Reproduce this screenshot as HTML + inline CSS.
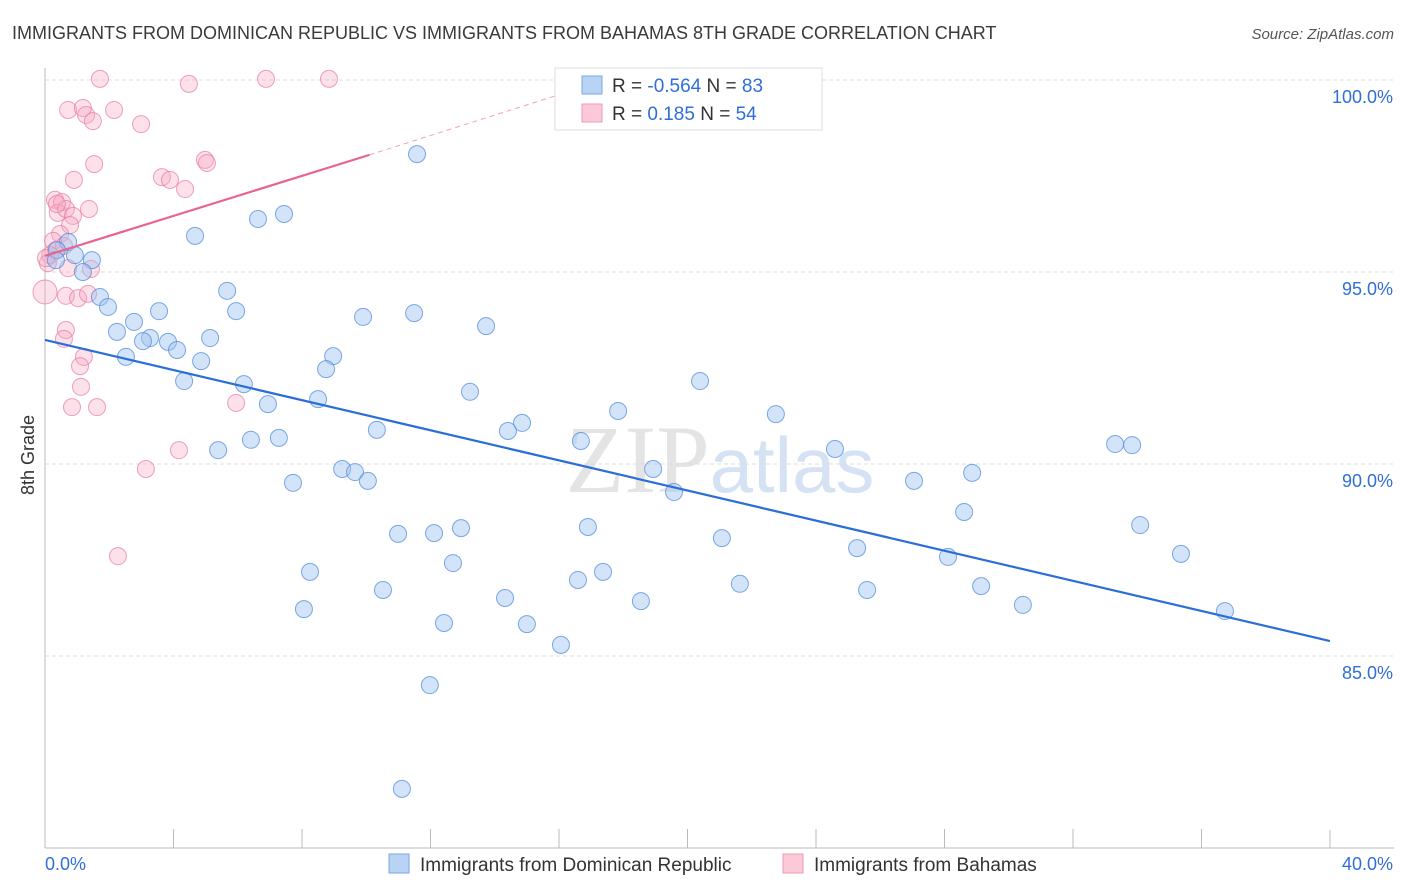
<!DOCTYPE html>
<html><head><meta charset="utf-8"><style>
body{margin:0;background:#fff;font-family:"Liberation Sans",sans-serif;}
svg{display:block}
</style></head><body>
<svg id="chart" width="1406" height="892" xmlns="http://www.w3.org/2000/svg" font-family="Liberation Sans, sans-serif">
<text x="12" y="39" font-size="18" fill="#3a3a3a">IMMIGRANTS FROM DOMINICAN REPUBLIC VS IMMIGRANTS FROM BAHAMAS 8TH GRADE CORRELATION CHART</text>
<text x="1394" y="39" font-size="15" fill="#555" text-anchor="end" font-style="italic">Source: ZipAtlas.com</text>
<text x="720" y="492" font-size="96" fill="#e4e4e4" text-anchor="middle" font-family="Liberation Serif, serif">ZIP<tspan fill="#d4e2f4" font-family="Liberation Sans, sans-serif" font-size="78">atlas</tspan></text>
<g id="grid"></g>
<g id="axes"></g>
<g id="pts"></g>
<g id="trends"></g>
<text transform="translate(34,455) rotate(-90)" font-size="18" fill="#333" text-anchor="middle">8th Grade</text>
<g>
<rect x="555" y="68" width="267" height="62" fill="#fff" stroke="#ddd"/>
<rect x="582" y="76" width="20" height="18" fill="#b9d3f5" stroke="#7aa6e6"/>
<rect x="582" y="104" width="20" height="18" fill="#fbc9d8" stroke="#ee9ab5"/>
<text x="612" y="92" font-size="19" fill="#333">R = <tspan fill="#2f6fd6">-0.564</tspan>   N = <tspan fill="#2f6fd6">83</tspan></text>
<text x="612" y="120" font-size="19" fill="#333">R =    <tspan fill="#2f6fd6">0.185</tspan>   N = <tspan fill="#2f6fd6">54</tspan></text>
</g>
<g>
<rect x="389" y="854" width="20" height="19" fill="#b9d3f5" stroke="#7aa6e6"/>
<text x="420" y="871" font-size="19" fill="#333">Immigrants from Dominican Republic</text>
<rect x="783" y="854" width="20" height="19" fill="#fbc9d8" stroke="#ee9ab5"/>
<text x="814" y="871" font-size="19" fill="#333">Immigrants from Bahamas</text>
</g>
</svg>
<script>
const yTicks=[100,95,90,85];
const yTickLabels=["100.0%","95.0%","90.0%","85.0%"];
const xTickVals=[0,4,8,12,16,20,24,28,32,36,40];
const xEndLabels=["0.0%","40.0%"];
const blueX=[11.58,7.44,6.63,4.67,0.72,0.37,0.93,1.46,1.18,0.34,1.71,1.96,5.67,5.95,3.55,9.90,11.49,13.73,2.77,2.24,3.27,3.05,3.83,4.11,5.14,2.52,4.86,8.97,8.75,4.33,6.19,13.23,20.39,6.94,8.50,17.84,22.75,14.85,14.41,10.33,16.68,24.59,33.31,33.84,6.41,7.28,5.39,18.93,9.25,9.65,28.86,7.72,10.05,19.58,27.05,28.61,12.95,12.11,10.99,16.90,34.09,21.07,25.28,28.11,35.36,12.70,8.25,17.37,16.59,21.63,29.14,25.59,10.52,14.32,8.06,18.55,30.44,36.73,12.42,15.00,16.06,11.98,11.11];
const blueY=[98.07,96.51,96.38,95.94,95.78,95.57,95.44,95.31,95.00,95.31,94.35,94.09,94.51,93.98,93.98,93.83,93.93,93.59,93.70,93.44,93.28,93.20,93.18,92.97,93.28,92.79,92.68,92.81,92.47,92.16,92.08,91.88,92.16,91.56,91.69,91.38,91.30,91.07,90.86,90.89,90.60,90.39,90.52,90.49,90.63,90.68,90.36,89.87,89.87,89.79,89.77,89.51,89.56,89.27,89.56,88.75,88.33,88.20,88.18,88.36,88.41,88.07,87.81,87.58,87.66,87.42,87.19,87.19,86.98,86.88,86.82,86.72,86.72,86.51,86.22,86.43,86.33,86.17,85.86,85.83,85.29,84.24,81.54];
const pinkX=[1.71,6.88,8.84,4.48,0.72,1.18,1.28,1.49,2.15,2.99,1.53,0.90,4.98,5.04,3.64,3.89,4.36,0.31,0.53,0.40,0.65,1.37,0.87,0.78,0.47,0.25,0.34,0.16,0.09,0.72,1.43,0.00,0.65,1.03,1.34,0.65,0.59,1.21,1.09,1.12,0.84,1.62,5.95,3.14,4.17,2.27,0.59,0.37,0.03];
const pinkY=[100.03,100.03,100.03,99.90,99.22,99.27,99.09,98.93,99.22,98.85,97.81,97.40,97.92,97.84,97.47,97.40,97.16,96.88,96.82,96.54,96.64,96.64,96.46,96.22,95.99,95.81,95.57,95.44,95.23,95.10,95.08,94.48,94.38,94.32,94.43,93.49,93.26,92.79,92.55,92.01,91.48,91.48,91.59,89.87,90.36,87.60,95.68,96.77,95.36];
const blueTrendX=[0,40];
const blueTrendY=[93.23,85.39];
const pinkTrendX=[0,10.1];
const pinkTrendY=[95.42,98.05];
const pinkDashX=[10.1,16.5];
const pinkDashY=[98.05,99.75];

const NS="http://www.w3.org/2000/svg";
const sx=v=>45+v*32.125;
const sy=v=>80+(100-v)*38.4;
function mk(tag,attrs,parent){const e=document.createElementNS(NS,tag);for(const k in attrs)e.setAttribute(k,attrs[k]);document.getElementById(parent).appendChild(e);return e;}
yTicks.forEach((t,i)=>{
  const g=mk('line',{x1:45,x2:1394,y1:sy(t),y2:sy(t),stroke:'#ddd','stroke-dasharray':'4,3'},'grid');
  
  
  const l=mk('text',{x:1393,y:sy(t)+23,'font-size':18,fill:'#2f6fd6','text-anchor':'end'},'grid');
  l.textContent=yTickLabels[i];
  
  
});
const ax=mk('line',{x1:45,x2:1394,y1:848,y2:848,stroke:'#bbb'},'axes');


const ay=mk('line',{x1:45,x2:45,y1:68,y2:848,stroke:'#bbb'},'axes');


xTickVals.forEach((t,i)=>{
  const big=(i==0||i==xTickVals.length-1);
  const tk=mk('line',{x1:sx(t),x2:sx(t),y1:big?830:829,y2:848,stroke:'#bbb'},'axes');
  
  
});
[[0,'start',45],[40,'end',1393]].forEach((d,i)=>{
  const l=mk('text',{x:d[2],y:870,'font-size':18,fill:'#2f6fd6','text-anchor':d[1]},'axes');
  l.textContent=xEndLabels[i];
  
  
});
pinkX.forEach((x,i)=>{
  const c=mk('circle',{cx:sx(x),cy:sy(pinkY[i]),r:x<0.05&&pinkY[i]<95?12:8.5,fill:'rgba(246,168,194,0.35)',stroke:'rgba(232,120,156,0.7)','stroke-width':1},'pts');
  
  
});
blueX.forEach((x,i)=>{
  const c=mk('circle',{cx:sx(x),cy:sy(blueY[i]),r:8.5,fill:'rgba(160,196,240,0.45)',stroke:'rgba(80,140,220,0.75)','stroke-width':1},'pts');
  
  
});
const bl=mk('line',{x1:sx(blueTrendX[0]),y1:sy(blueTrendY[0]),x2:sx(blueTrendX[1]),y2:sy(blueTrendY[1]),stroke:'#2a6fd8','stroke-width':2.2},'trends');


const pl=mk('line',{x1:sx(pinkTrendX[0]),y1:sy(pinkTrendY[0]),x2:sx(pinkTrendX[1]),y2:sy(pinkTrendY[1]),stroke:'#e8648e','stroke-width':2.2},'trends');


const pd=mk('line',{x1:sx(pinkDashX[0]),y1:sy(pinkDashY[0]),x2:sx(pinkDashX[1]),y2:sy(pinkDashY[1]),stroke:'#f0a0b8','stroke-width':1,'stroke-dasharray':'5,4'},'trends');


</script>
</body></html>
